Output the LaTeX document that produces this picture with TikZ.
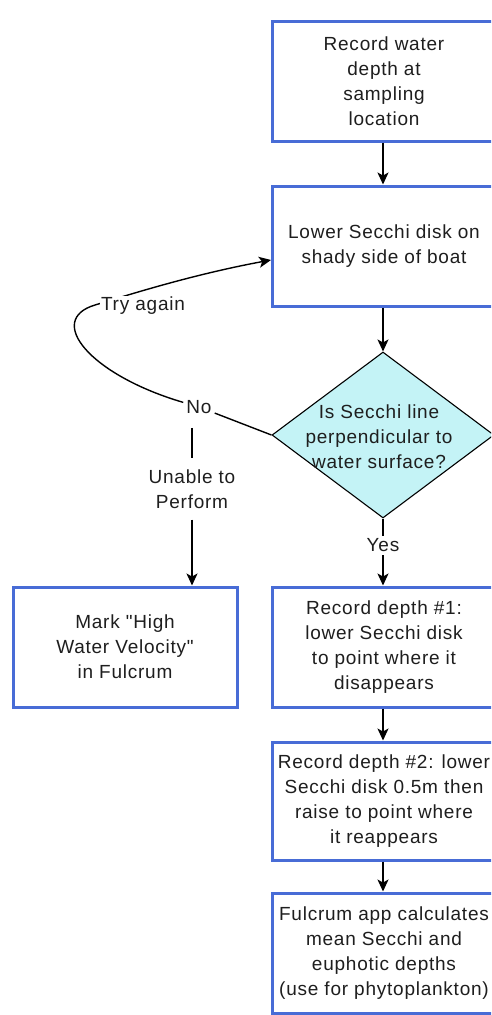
\documentclass[tikz,border=0pt]{standalone}
\usepackage{fontspec}
\setmainfont{Liberation Sans}
\newfontfamily\chartfont[LetterSpace=4]{Liberation Sans}
\usetikzlibrary{shapes.geometric,arrows.meta}

\definecolor{boxblue}{RGB}{72,108,214}
\definecolor{decisionfill}{RGB}{196,243,246}
\definecolor{inktext}{RGB}{30,30,30}

\tikzset{
  chart/.style={font=\chartfont\fontsize{19}{25}\selectfont, text=inktext},
  stepbox/.style={chart, draw=boxblue, line width=3pt, fill=white,
    minimum width=223pt, minimum height=120pt, align=center, inner sep=2pt},
  decision/.style={diamond, draw=black, line width=1.1pt, fill=decisionfill,
    minimum width=222pt, minimum height=166pt, inner sep=0pt},
  flow/.style={draw=black, line width=1.4pt},
  flowarrow/.style={flow, -{Stealth[length=12pt,width=11pt,inset=3pt]}},
  edgelabel/.style={chart, fill=white, inner sep=3pt, align=center}
}

\begin{document}
\begin{tikzpicture}[x=1pt,y=-1pt]
  \useasboundingbox (0,0) rectangle (491,1015);
  \clip (0,0) rectangle (491,1015);

  % process steps (right column runs off the right edge)
  \node[stepbox] (depth)   at (384,81)  {Record water\\depth at\\sampling\\location};
  \node[stepbox] (lower)   at (384,246) {Lower Secchi disk on\\shady side of boat};
  \node[decision] (check)  at (383,435) {};
  \node[chart, align=center] (checktext) at (379,437)
    {Is Secchi line\\perpendicular to\\water surface?};
  \node[stepbox, minimum width=224pt] (mark) at (125,647)
    {Mark "High\\Water Velocity"\\in Fulcrum};
  \node[stepbox] (first)   at (384,647) {Record depth \#1:\\lower Secchi disk\\to point where it\\disappears};
  \node[stepbox, minimum height=118pt] (second) at (384,801)
    {Record depth \#2: lower\\Secchi disk 0.5m then\\raise to point where\\it reappears};
  \node[stepbox] (calc)    at (384,953) {Fulcrum app calculates\\mean Secchi and\\euphotic depths\\(use for phytoplankton)};

  % main sequence
  \draw[flowarrow] (depth.south -| check) -- (lower.north -| check);
  \draw[flowarrow] (lower.south -| check) -- (check.north);
  \draw[flowarrow] (check.south) -- node[edgelabel, pos=0.4] {Yes} (first.north -| check);
  \draw[flowarrow] (first.south -| check) -- (second.north -| check);
  \draw[flowarrow] (second.south -| check) -- (calc.north -| check);

  % "No" branch: retry loop and fallback
  \node[edgelabel] (no) at (199,407) {No};
  \draw[flow] (check.west) -- (no);
  \draw[flowarrow] (no) .. controls (90,375) and (45,320) .. (95,305)
                        .. controls (125,296) and (190,275) .. ([yshift=-14pt]lower.west);
  \node[edgelabel, inner sep=1pt] (retry) at (143,306) {Try again};

  \node[chart, align=center, inner xsep=2pt, inner ysep=11pt] (unable) at (192,489)
    {Unable to\\Perform};
  \draw[flow] ([yshift=-11pt]no.south -| unable) -- (unable);
  \draw[flowarrow] (unable) -- (unable |- mark.north);
\end{tikzpicture}
\end{document}
